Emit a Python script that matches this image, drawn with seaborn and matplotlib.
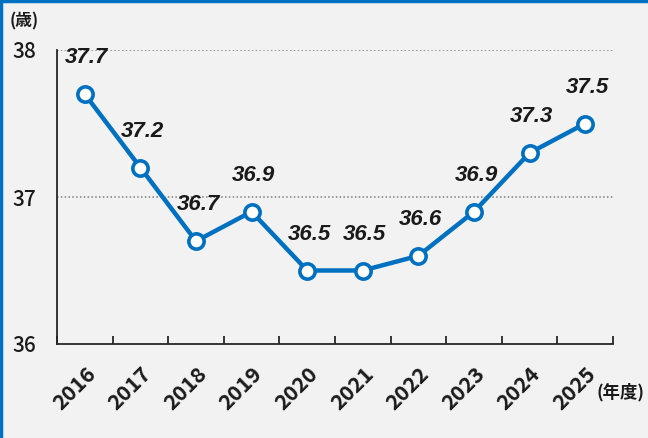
import matplotlib
matplotlib.use("Agg")
import matplotlib.pyplot as plt
import seaborn as sns
import pandas as pd
from matplotlib.lines import Line2D

years = [2016, 2017, 2018, 2019, 2020, 2021, 2022, 2023, 2024, 2025]
ages = [37.7, 37.2, 36.7, 36.9, 36.5, 36.5, 36.6, 36.9, 37.3, 37.5]
year_labels = [str(y) for y in years]
y_ticks = [36, 37, 38]

sns.set_theme(style="white")
plt.rcParams['font.family'] = ['Noto Sans CJK JP', 'DejaVu Sans']

BG = '#f2f2f2'
BLUE = '#0070C0'
TXT = '#1a1a1a'

fig = plt.figure(figsize=(6.48, 4.38), dpi=100, facecolor=BG)
ax = fig.add_axes([57/648, 1-344/438, (613-57)/648, (344-50)/438])
ax.set_facecolor(BG)

df = pd.DataFrame({'year': years, 'age': ages})
sns.lineplot(data=df, x='year', y='age', ax=ax, color=BLUE, linewidth=3.2,
             marker='o', markersize=11, markerfacecolor='white',
             markeredgecolor=BLUE, markeredgewidth=2.6, zorder=3)

ax.set_xlim(years[0]-0.5, years[-1]+0.5)
ax.set_ylim(36, 38)

for yv in [37, 38]:
    ax.axhline(yv, color='#7f7f7f', linestyle=(0, (1, 1.5)), linewidth=1.1, zorder=1)

for s in ['top', 'right']:
    ax.spines[s].set_visible(False)
for s in ['left', 'bottom']:
    ax.spines[s].set_color('#262626')
    ax.spines[s].set_linewidth(1.3)

ax.set_yticks(y_ticks)
ax.set_yticklabels([str(v) for v in y_ticks], fontsize=15, fontweight='medium', color=TXT)
ax.tick_params(axis='y', length=0, pad=15)

ax.set_xticks(years)
ax.set_xticklabels(year_labels, rotation=45, ha='right', rotation_mode='anchor',
                   fontsize=15.5, fontweight='bold', color=TXT)
ax.tick_params(axis='x', which='major', length=0, pad=14)
ax.set_xticks([y-0.5 for y in years] + [years[-1]+0.5], minor=True)
ax.tick_params(axis='x', which='minor', bottom=True, direction='in', length=6, width=1.3, color='#262626')
ax.set_xlabel('')
ax.set_ylabel('')

for x, y in zip(years, ages):
    ax.annotate(f'{y:.1f}', (x, y), xytext=(1.5, 26), textcoords='offset points',
                ha='center', va='center', fontsize=16, fontweight='bold',
                fontstyle='italic', family=['Liberation Sans'], color=TXT)

fig.text(10/648, 1-21/438, '(歳)', fontsize=12, fontweight='bold', ha='left', va='center', color=TXT)
fig.text(645/648, 1-392/438, '(年度)', fontsize=12.5, fontweight='bold', ha='right', va='center', color=TXT)

fig.add_artist(Line2D([0, 1], [1-1/438, 1-1/438], color=BLUE, linewidth=2.5, transform=fig.transFigure))
fig.add_artist(Line2D([1/648, 1/648], [0, 1], color=BLUE, linewidth=2.5, transform=fig.transFigure))

fig.savefig('out.png', dpi=100, facecolor=BG)
